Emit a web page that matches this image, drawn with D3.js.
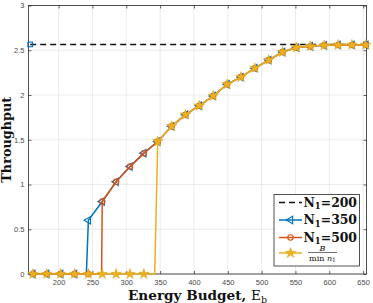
<!DOCTYPE html>
<html>
<head>
<meta charset="utf-8">
<script src="https://cdn.jsdelivr.net/npm/d3@7"></script>
<style>
  html, body { margin: 0; padding: 0; background: #fff; }
  svg { display: block; }
</style>
</head>
<body>
<svg id="chart" width="373" height="303"></svg>
<script>
// energy budget grid (x)
const energy = [162, 182.5, 203, 223.5, 244, 264.5, 285, 305.5, 326, 346.5, 367, 387.5, 408,
  428.5, 449, 469.5, 490, 510.5, 531, 551.5, 572, 592.5, 613, 633.5, 654];

const n350 = [0, 0, 0, 0, 0.60, 0.81, 1.03, 1.20, 1.35, 1.48, 1.65, 1.78, 1.88, 1.99, 2.12,
  2.20, 2.30, 2.39, 2.48, 2.53, 2.545, 2.555, 2.56, 2.56, 2.56];
const n500 = [0, 0, 0, 0, 0, 0.81, 1.03, 1.20, 1.35, 1.48, 1.65, 1.78, 1.88, 1.99, 2.12,
  2.20, 2.30, 2.39, 2.48, 2.53, 2.545, 2.555, 2.56, 2.56, 2.56];
const bound = [0, 0, 0, 0, 0, 0, 0, 0, 0, 1.48, 1.65, 1.78, 1.88, 1.99, 2.12,
  2.20, 2.30, 2.39, 2.48, 2.53, 2.545, 2.555, 2.56, 2.56, 2.56];

// energy where each curve leaves zero (the near-vertical jumps)
const jump350 = 241;
const jump500 = 263.5;
const jumpBound = 342;

// N1=200 stays flat
const n200X = [158, 654];
const n200Y = [2.565, 2.565];

const xTicks = [200, 250, 300, 350, 400, 450, 500, 550, 600, 650];
const yTicks = [0, 0.5, 1, 1.5, 2, 2.5, 3];

const svg = d3.select('#chart');
const L = 28.5, R = 366.5, T = 5.5, B = 274;

const x = d3.scaleLinear().domain([155.5, 655]).range([L, R]);
const y = d3.scaleLinear().domain([0, 3]).range([B, T]);

const blue = '#0072BD', red = '#D95319', yellow = '#EDB120', axisCol = '#262626';
const serif = '"DejaVu Serif", "Liberation Serif", serif';

// grid
svg.append('g').selectAll('line.gx').data(xTicks).join('line')
  .attr('x1', d => x(d)).attr('x2', d => x(d)).attr('y1', T).attr('y2', B)
  .attr('stroke', '#e2e2e2').attr('stroke-width', 0.7);
svg.append('g').selectAll('line.gy').data(yTicks).join('line')
  .attr('x1', L).attr('x2', R).attr('y1', d => y(d)).attr('y2', d => y(d))
  .attr('stroke', '#e2e2e2').attr('stroke-width', 0.7);

// axes (ticks inside, box on)
const tickStyle = g => {
  g.select('.domain').remove();
  g.selectAll('.tick line').attr('stroke', axisCol).attr('stroke-width', 0.7);
  g.selectAll('.tick text').attr('fill', '#4a4a4a')
    .style('font-family', '"Liberation Sans", Arial, sans-serif').style('font-size', '7.5px');
};
svg.append('g').attr('transform', `translate(0,${B})`)
  .call(d3.axisBottom(x).tickValues(xTicks).tickSizeInner(-3).tickSizeOuter(0).tickPadding(6))
  .call(tickStyle);
svg.append('g').attr('transform', `translate(${L},0)`)
  .call(d3.axisLeft(y).tickValues(yTicks).tickFormat(d3.format('~g')).tickSizeInner(-3).tickSizeOuter(0).tickPadding(4))
  .call(tickStyle);
svg.append('g').attr('transform', `translate(0,${T})`)
  .call(d3.axisTop(x).tickValues(xTicks).tickSizeInner(-3).tickSizeOuter(0).tickFormat(''))
  .call(tickStyle);
svg.append('g').attr('transform', `translate(${R},0)`)
  .call(d3.axisRight(y).tickValues(yTicks).tickSizeInner(-3).tickSizeOuter(0).tickFormat(''))
  .call(tickStyle);
svg.append('rect').attr('x', L).attr('y', T).attr('width', R - L).attr('height', B - T)
  .attr('fill', 'none').attr('stroke', axisCol).attr('stroke-width', 0.8);

const line = d3.line().x(d => x(d[0])).y(d => y(d[1]));

function seriesPoints(vals, jump) {
  const pts = [];
  energy.forEach((e, i) => {
    if (e > jump && (i === 0 || energy[i - 1] < jump)) pts.push([jump, 0]);
    pts.push([e, vals[i]]);
  });
  return pts;
}

const plot = svg.append('g');

// N1 = 200
plot.append('path').datum(n200X.map((d, i) => [d, n200Y[i]]))
  .attr('d', line).attr('fill', 'none').attr('stroke', '#111')
  .attr('stroke-width', 1.4).attr('stroke-dasharray', '6,4');
plot.selectAll('rect.sq').data(n200X).join('rect')
  .attr('x', (d) => x(d) - 2.3).attr('y', (d, i) => y(n200Y[i]) - 2.3)
  .attr('width', 4.6).attr('height', 4.6)
  .attr('fill', 'none').attr('stroke', blue).attr('stroke-width', 1.1);

const triangle = d3.symbol().type(d3.symbolTriangle).size(24);
const star = d3.symbol().type(d3.symbolStar).size(34);

const series = [
  { vals: n350, jump: jump350, color: blue, marker: 'tri' },
  { vals: n500, jump: jump500, color: red, marker: 'circ' },
  { vals: bound, jump: jumpBound, color: yellow, marker: 'star' }
];

series.forEach(s => {
  plot.append('path').datum(seriesPoints(s.vals, s.jump))
    .attr('d', line).attr('fill', 'none').attr('stroke', s.color).attr('stroke-width', 1.5);
  const g = plot.append('g');
  const pts = energy.map((e, i) => [e, s.vals[i]]);
  if (s.marker === 'tri') {
    g.selectAll('path').data(pts).join('path')
      .attr('d', triangle)
      .attr('transform', d => `translate(${x(d[0])},${y(d[1])}) rotate(-90)`)
      .attr('fill', 'none').attr('stroke', s.color).attr('stroke-width', 1.1);
  } else if (s.marker === 'circ') {
    g.selectAll('circle').data(pts).join('circle')
      .attr('cx', d => x(d[0])).attr('cy', d => y(d[1])).attr('r', 2.7)
      .attr('fill', 'none').attr('stroke', s.color).attr('stroke-width', 1.1);
  } else {
    g.selectAll('path').data(pts).join('path')
      .attr('d', star)
      .attr('transform', d => `translate(${x(d[0])},${y(d[1])})`)
      .attr('fill', s.color).attr('stroke', '#d9a21a').attr('stroke-width', 0.5);
  }
});

// axis labels
const xl = svg.append('text').attr('x', (L + R) / 2).attr('y', 300)
  .attr('text-anchor', 'middle').style('font-family', serif).style('font-size', '13.6px')
  .attr('fill', '#111');
xl.append('tspan').style('font-weight', 'bold').text('Energy Budget, ');
xl.append('tspan').text('E');
xl.append('tspan').attr('dy', 2.5).style('font-size', '9.5px').text('b');

svg.append('text').attr('transform', `translate(11,${(T + B) / 2}) rotate(-90)`)
  .attr('text-anchor', 'middle').style('font-family', serif).style('font-size', '12.8px')
  .style('font-weight', 'bold').attr('fill', '#111').text('Throughput');

// legend
const lg = svg.append('g');
lg.append('rect').attr('x', 274).attr('y', 194.5).attr('width', 85.5).attr('height', 71.5)
  .attr('fill', '#fff').attr('stroke', axisCol).attr('stroke-width', 0.8);

const legendRows = [
  { label: '200', color: '#111', dash: '6,4', marker: null, yy: 202.5 },
  { label: '350', color: blue, dash: null, marker: 'tri', yy: 220 },
  { label: '500', color: red, dash: null, marker: 'circ', yy: 237.5 },
  { label: null, color: yellow, dash: null, marker: 'star', yy: 253 }
];
legendRows.forEach(r => {
  lg.append('line').attr('x1', 279).attr('x2', 302).attr('y1', r.yy).attr('y2', r.yy)
    .attr('stroke', r.color).attr('stroke-width', 1.5).attr('stroke-dasharray', r.dash);
  if (r.marker === 'tri') {
    lg.append('path').attr('d', triangle).attr('transform', `translate(290.5,${r.yy}) rotate(-90)`)
      .attr('fill', 'none').attr('stroke', r.color).attr('stroke-width', 1.1);
  } else if (r.marker === 'circ') {
    lg.append('circle').attr('cx', 290.5).attr('cy', r.yy).attr('r', 2.7)
      .attr('fill', 'none').attr('stroke', r.color).attr('stroke-width', 1.1);
  } else if (r.marker === 'star') {
    lg.append('path').attr('d', star).attr('transform', `translate(290.5,${r.yy})`)
      .attr('fill', r.color).attr('stroke', '#d9a21a').attr('stroke-width', 0.5);
  }
  if (r.label) {
    const t = lg.append('text').attr('x', 303.5).attr('y', r.yy + 4.3)
      .style('font-family', serif).style('font-size', '12.4px').style('font-weight', 'bold')
      .attr('fill', '#111');
    t.append('tspan').text('N');
    t.append('tspan').attr('dy', 2.5).style('font-size', '8.5px').text('1');
    t.append('tspan').attr('dy', -2.5).text('=' + r.label);
  } else {
    const cx = 322.5;
    lg.append('text').attr('x', cx).attr('y', r.yy - 2).attr('text-anchor', 'middle')
      .style('font-family', serif).style('font-size', '8px').style('font-style', 'italic')
      .attr('fill', '#111').text('B');
    lg.append('line').attr('x1', 308).attr('x2', 337).attr('y1', r.yy - 0.5).attr('y2', r.yy - 0.5)
      .attr('stroke', '#111').attr('stroke-width', 0.6);
    const t = lg.append('text').attr('x', cx).attr('y', r.yy + 7.5).attr('text-anchor', 'middle')
      .style('font-family', serif).style('font-size', '8px').attr('fill', '#111');
    t.append('tspan').text('min ');
    t.append('tspan').style('font-style', 'italic').text('n');
    t.append('tspan').attr('dy', 1.5).style('font-size', '6px').text('1');
  }
});
</script>
</body>
</html>
